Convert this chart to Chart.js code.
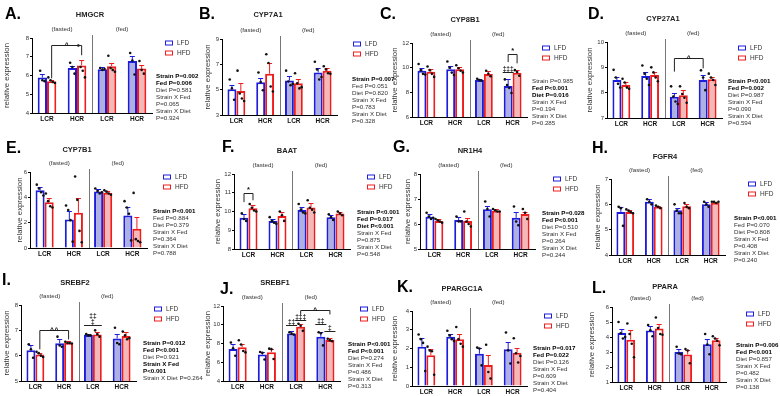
<!DOCTYPE html>
<html lang="en">
<head>
<meta charset="UTF-8" />
<title>Liver gene expression panels</title>
<script src="https://cdn.jsdelivr.net/npm/chart.js"></script>
<style>
  body {
    margin: 0;
    width: 780px;
    height: 396px;
    position: relative;
    overflow: hidden;
    background: #fff;
    font-family: Arial, "Liberation Sans", sans-serif;
  }
  canvas { position: absolute; }
  .txt { position: absolute; white-space: nowrap; line-height: 1; transform: translateY(-50%); }
  .letter { font-size: 16px; font-weight: bold; color: #000; }
  .gene { font-size: 7.5px; font-weight: bold; color: #222; transform: translate(-50%, -50%); }
  .leg { font-size: 6.5px; color: #333; }
  .box { position: absolute; width: 6px; height: 3px; background: #fff; transform: translateY(-50%); }
  .stat { font-size: 6.2px; color: #333; }
  .stat.b { font-weight: bold; color: #000; }
</style>
</head>
<body>
<script>
  // groups: fasted LCR, fasted HCR, fed LCR, fed HCR
  const groups = ['LCR', 'HCR', 'LCR', 'HCR'];
  const diets = ['LFD', 'HFD'];

  // A. HMGCR
  const hmgcrLFD = [5.89, 6.40, 6.34, 6.78];
  const hmgcrHFD = [5.69, 6.54, 6.50, 6.38];
  const hmgcrSem = [[0.19, 0.12, 0.09, 0.27], [0.07, 0.31, 0.18, 0.19]];
  const hmgcrDots = [
    [[6.25, 5.75, 5.70], [6.68, 6.45, 6.10], [6.40, 6.30, 6.35], [7.20, 6.80, 6.05]],
    [[5.90, 5.75, 5.65, 5.60], [7.60, 6.45, 6.25, 5.90], [7.05, 6.40, 6.30, 6.20], [6.77, 6.30, 6.10]]
  ];
  const hmgcrTicks = [4, 5, 6, 7, 8];
  const hmgcrStats = [['Strain P=0.002', 1], ['Fed P=0.006', 1], ['Diet P=0.581', 0], ['Strain X Fed', 0], ['P=0.065', 0], ['Strain X Diet', 0], ['P=0.924', 0]];
  const hmgcrMarks = [{ kind: 'bracket', from: [0, 1], to: [1, 1], y: 7.65, legs: [5.85, 7.08], label: '^' }];

  // B. CYP7A1
  const cyp7a1LFD = [5.03, 5.59, 5.72, 6.36];
  const cyp7a1HFD = [4.90, 6.25, 5.51, 6.49];
  const cyp7a1Sem = [[0.35, 0.31, 0.32, 0.34], [0.60, 0.85, 0.32, 0.21]];
  const cyp7a1Dots = [
    [[5.80, 5.10, 4.20], [6.35, 5.60, 4.95], [6.50, 5.65, 5.35, 5.45], [7.20, 6.60, 5.80, 6.00]],
    [[6.50, 4.70, 4.30, 4.10], [7.80, 7.10, 5.25, 4.85], [6.30, 5.50, 5.10, 5.20], [6.85, 6.60, 6.30, 6.25]]
  ];
  const cyp7a1Ticks = [3, 5, 7, 9];
  const cyp7a1Stats = [['Strain P=0.007', 1], ['Fed P=0.051', 0], ['Diet P=0.820', 0], ['Strain X Fed', 0], ['P=0.783', 0], ['Strain X Diet', 0], ['P=0.328', 0]];
  const cyp7a1Marks = [];

  // C. CYP8B1
  const cyp8b1LFD = [9.75, 9.88, 9.00, 8.52];
  const cyp8b1HFD = [9.67, 9.88, 9.48, 9.59];
  const cyp8b1Sem = [[0.19, 0.24, 0.08, 0.53], [0.19, 0.19, 0.24, 0.21]];
  const cyp8b1Dots = [
    [[10.3, 9.8, 9.5, 9.45], [10.5, 10.0, 9.6, 9.4], [9.1, 9.0, 8.95], [9.05, 8.6, 8.35, 7.95]],
    [[10.1, 9.8, 9.5, 9.25], [10.2, 9.95, 9.75, 9.6], [9.75, 9.5, 9.3], [9.8, 9.65, 9.35]]
  ];
  const cyp8b1Ticks = [6, 8, 10, 12];
  const cyp8b1Stats = [['Strain P=0.985', 0], ['Fed P<0.001', 1], ['Diet P=0.016', 1], ['Strain X Fed', 0], ['P=0.194', 0], ['Strain X Diet', 0], ['P=0.285', 0]];
  const cyp8b1Marks = [
    { kind: 'dagger', at: [3, 0], y: 9.65, label: ['‡‡‡'] },
    { kind: 'bracket', from: [3, 0], to: [3, 1], y: 11.14, legs: [10.45, 10.35], label: '*' }
  ];

  // D. CYP27A1
  const cyp27a1LFD = [8.50, 8.66, 7.84, 8.50];
  const cyp27a1HFD = [8.30, 8.70, 7.90, 8.53];
  const cyp27a1Sem = [[0.13, 0.17, 0.16, 0.20], [0.13, 0.13, 0.20, 0.10]];
  const cyp27a1Dots = [
    [[8.9, 8.6, 8.35, 8.2], [9.07, 8.75, 8.55, 8.3], [8.25, 7.85, 7.65, 7.55], [8.88, 8.6, 8.1]],
    [[8.55, 8.4, 8.2, 8.15], [9.0, 8.8, 8.6, 8.45], [8.25, 7.95, 7.8, 7.6], [8.75, 8.6, 8.5, 8.3]]
  ];
  const cyp27a1Ticks = [7, 8, 9, 10];
  const cyp27a1Stats = [['Strain P<0.001', 1], ['Fed P=0.002', 1], ['Diet P=0.987', 0], ['Strain X Fed', 0], ['P=0.090', 0], ['Strain X Diet', 0], ['P=0.594', 0]];
  const cyp27a1Marks = [{ kind: 'bracket', from: [2, 0], to: [3, 0], y: 9.36, legs: [8.83, 8.96], label: '^' }];

  // E. CYP7B1
  const cyp7b1LFD = [4.55, 2.25, 4.47, 2.56];
  const cyp7b1HFD = [3.62, 2.78, 4.36, 1.51];
  const cyp7b1Sem = [[0.26, 0.71, 0.21, 0.66], [0.32, 1.16, 0.16, 0.97]];
  const cyp7b1Dots = [
    [[5.0, 4.7, 4.4, 4.15], [3.35, 3.0, 2.2, 0.5], [4.7, 4.5, 4.3, 4.4], [3.7, 3.2, 2.7, 0.6]],
    [[4.3, 3.7, 3.3, 3.2], [5.65, 3.8, 1.35, 0.45], [4.55, 4.45, 4.3, 4.2], [4.35, 0.7, 0.55, 0.45]]
  ];
  const cyp7b1Ticks = [0, 2, 4, 6];
  const cyp7b1Stats = [['Strain P<0.001', 1], ['Fed P=0.884', 0], ['Diet P=0.379', 0], ['Strain X Fed', 0], ['P=0.364', 0], ['Strain X Diet', 0], ['P=0.788', 0]];
  const cyp7b1Marks = [];

  // F. BAAT
  const baatLFD = [9.67, 9.49, 10.08, 9.69];
  const baatHFD = [10.17, 9.76, 10.22, 9.90];
  const baatSem = [[0.18, 0.11, 0.18, 0.12], [0.18, 0.23, 0.22, 0.09]];
  const baatDots = [
    [[9.9, 9.6, 9.5], [9.7, 9.5, 9.4, 9.35], [10.4, 10.1, 9.95, 9.9], [9.85, 9.7, 9.55]],
    [[10.4, 10.2, 10.05, 10.0], [10.0, 9.8, 9.5], [10.6, 10.2, 10.1, 9.95], [10.0, 9.9, 9.8]]
  ];
  const baatTicks = [8, 9, 10, 11, 12];
  const baatStats = [['Strain P<0.001', 1], ['Fed P=0.017', 1], ['Diet P<0.001', 1], ['Strain X Fed', 0], ['P=0.875', 0], ['Strain X Diet', 0], ['P=0.548', 0]];
  const baatMarks = [{ kind: 'bracket', from: [0, 0], to: [0, 1], y: 10.97, legs: [10.5, 10.6], label: '*' }];

  // G. NR1H4
  const nr1h4LFD = [6.29, 6.16, 6.59, 6.25];
  const nr1h4HFD = [6.12, 6.12, 6.53, 6.40];
  const nr1h4Sem = [[0.10, 0.13, 0.14, 0.22], [0.08, 0.13, 0.06, 0.09]];
  const nr1h4Dots = [
    [[6.45, 6.3, 6.2, 6.25], [6.3, 6.1, 6.1], [6.9, 6.6, 6.3], [6.7, 6.1, 5.95]],
    [[6.2, 6.15, 6.1, 6.05], [6.5, 6.1, 6.0, 5.9], [6.6, 6.55, 6.5, 6.5], [6.6, 6.45, 6.2]]
  ];
  const nr1h4Ticks = [5, 6, 7, 8];
  const nr1h4Stats = [['Strain P=0.028', 1], ['Fed P<0.001', 1], ['Diet P=0.510', 0], ['Strain X Fed', 0], ['P=0.264', 0], ['Strain X Diet', 0], ['P=0.244', 0]];
  const nr1h4Marks = [];

  // H. FGFR4
  const fgfr4LFD = [5.70, 6.10, 5.77, 6.00];
  const fgfr4HFD = [5.70, 5.90, 5.92, 6.06];
  const fgfr4Sem = [[0.20, 0.13, 0.10, 0.10], [0.07, 0.04, 0.11, 0.04]];
  const fgfr4Dots = [
    [[5.9, 5.85, 5.15], [6.2, 6.1, 6.0], [6.0, 5.75, 5.65, 5.65], [6.1, 6.0, 5.9]],
    [[5.8, 5.75, 5.7, 5.65], [5.95, 5.9, 5.85], [6.05, 5.9, 5.85], [6.1, 6.1, 6.05, 6.1]]
  ];
  const fgfr4Ticks = [4, 5, 6, 7];
  const fgfr4Stats = [['Strain P<0.001', 1], ['Fed P=0.070', 0], ['Diet P=0.808', 0], ['Strain X Fed', 0], ['P=0.408', 0], ['Strain X Diet', 0], ['P=0.240', 0]];
  const fgfr4Marks = [];

  // I. SREBF2
  const srebf2LFD = [6.21, 6.49, 6.82, 6.68];
  const srebf2HFD = [6.05, 6.51, 6.84, 6.78];
  const srebf2Sem = [[0.20, 0.15, 0.03, 0.16], [0.07, 0.07, 0.09, 0.15]];
  const srebf2Dots = [
    [[6.45, 6.25, 5.92], [6.75, 6.4, 6.35], [6.85, 6.8, 6.8], [7.1, 6.5, 6.45]],
    [[6.15, 6.1, 6.0, 5.95], [6.55, 6.5, 6.5, 6.48], [7.0, 6.85, 6.75], [6.95, 6.8, 6.65, 6.7]]
  ];
  const srebf2Ticks = [5, 6, 7, 8];
  const srebf2Stats = [['Strain P=0.012', 1], ['Fed P<0.001', 1], ['Diet P=0.921', 0], ['Strain X Fed', 1], ['P<0.001', 1], ['Strain X Diet P=0.264', 0]];
  const srebf2Marks = [
    { kind: 'bracket', from: [0, 1], to: [1, 1], y: 7.0, legs: [6.25, 6.64], label: '^^' },
    { kind: 'dagger', at: [2, -1], y: 7.21, label: ['‡‡', '‡'] }
  ];

  // J. SREBF1
  const srebf1LFD = [7.42, 6.82, 9.07, 8.72];
  const srebf1HFD = [7.60, 7.07, 9.78, 8.37];
  const srebf1Sem = [[0.53, 0.25, 0.29, 0.46], [0.35, 0.35, 0.35, 0.21]];
  const srebf1Dots = [
    [[8.1, 7.5, 6.7], [7.1, 7.0, 6.3], [9.2, 9.05, 8.95], [9.2, 9.1, 7.8]],
    [[8.35, 7.9, 7.2, 7.05], [7.45, 7.4, 6.35], [10.1, 9.9, 9.35], [8.5, 8.35, 8.25]]
  ];
  const srebf1Ticks = [4, 6, 8, 10, 12];
  const srebf1Stats = [['Strain P<0.001', 1], ['Fed P<0.001', 1], ['Diet P=0.274', 0], ['Strain X Fed', 0], ['P=0.486', 0], ['Strain X Diet', 0], ['P=0.313', 0]];
  const srebf1Marks = [
    { kind: 'dagger', at: [2, 0], y: 9.96, label: ['‡‡'] },
    { kind: 'dagger', at: [2, 1], y: 10.52, label: ['‡‡‡'] },
    { kind: 'dagger', at: [3, 0], y: 10.06, label: ['‡‡'] },
    { kind: 'dagger', at: [3, 1], y: 9.36, label: ['‡'] },
    { kind: 'bracket', from: [2, 1], to: [3, 1], y: 11.54, legs: [11.1, 11.1], label: '^' }
  ];

  // K. PPARGC1A
  const ppargc1aLFD = [2.10, 2.63, 1.72, 1.96];
  const ppargc1aHFD = [1.64, 2.49, 1.12, 1.78];
  const ppargc1aSem = [[0.44, 0.13, 0.32, 0.39], [0.32, 0.27, 0.53, 0.26]];
  const ppargc1aDots = [
    [[2.75, 2.5, 2.3, 0.8], [2.95, 2.7, 2.5, 2.4], [2.05, 2.0, 1.1], [2.85, 1.9, 1.2]],
    [[2.1, 1.9, 1.85, 0.6], [3.15, 2.5, 2.25, 2.1], [2.2, 0.75, 0.4], [2.55, 1.75, 1.25, 1.6]]
  ];
  const ppargc1aTicks = [0, 1, 2, 3, 4];
  const ppargc1aStats = [['Strain P=0.017', 1], ['Fed P=0.022', 1], ['Diet P=0.126', 0], ['Strain X Fed', 0], ['P=0.609', 0], ['Strain X Diet', 0], ['P=0.404', 0]];
  const ppargc1aMarks = [];

  // L. PPARA
  const pparaLFD = [4.27, 4.44, 3.00, 3.51];
  const pparaHFD = [3.82, 4.56, 2.84, 3.78];
  const pparaSem = [[0.29, 0.27, 0.22, 0.38], [0.62, 0.33, 0.27, 0.18]];
  const pparaDots = [
    [[5.0, 4.25, 3.9, 4.0], [4.8, 4.45, 4.05], [3.35, 2.9, 2.85], [4.2, 3.5, 2.85]],
    [[4.9, 4.2, 3.55, 2.65], [5.3, 4.6, 4.2, 4.15], [3.2, 3.1, 2.25], [4.05, 3.9, 3.75, 3.45]]
  ];
  const pparaTicks = [1, 2, 3, 4, 5, 6];
  const pparaStats = [['Strain P=0.006', 1], ['Fed P<0.001', 1], ['Diet P=0.857', 0], ['Strain X Fed', 0], ['P=0.482', 0], ['Strain X Diet', 0], ['P=0.138', 0]];
  const pparaMarks = [];

  const FONT = 'Arial, "Liberation Sans", sans-serif';
  const edge = ['#1c1cdc', '#f01c1c'];
  const fedFill = ['#aeb0e2', '#f3b9b9'];

  // panel frames (page pixels): plot box, y-title, letter, gene name, legend, stats
  const panels = [
    { letter: 'A.', gene: 'HMGCR', means: [hmgcrLFD, hmgcrHFD], sem: hmgcrSem, dots: hmgcrDots, ticks: hmgcrTicks, stats: hmgcrStats, marks: hmgcrMarks,
      x0: 32, x1: 152, top: 38, bot: 113, ylab: 7, lp: [5, 14], gp: [90, 15], legp: [165, 43], sp: [156, 76] },
    { letter: 'B.', gene: 'CYP7A1', means: [cyp7a1LFD, cyp7a1HFD], sem: cyp7a1Sem, dots: cyp7a1Dots, ticks: cyp7a1Ticks, stats: cyp7a1Stats, marks: cyp7a1Marks,
      x0: 222, x1: 337, top: 39, bot: 115, ylab: 208, lp: [199, 14], gp: [268, 15], legp: [353, 44], sp: [352, 79] },
    { letter: 'C.', gene: 'CYP8B1', means: [cyp8b1LFD, cyp8b1HFD], sem: cyp8b1Sem, dots: cyp8b1Dots, ticks: cyp8b1Ticks, stats: cyp8b1Stats, marks: cyp8b1Marks,
      x0: 412, x1: 527, top: 43, bot: 117, ylab: 395, lp: [380, 14], gp: [465, 20], legp: [542, 48], sp: [532, 81] },
    { letter: 'D.', gene: 'CYP27A1', means: [cyp27a1LFD, cyp27a1HFD], sem: cyp27a1Sem, dots: cyp27a1Dots, ticks: cyp27a1Ticks, stats: cyp27a1Stats, marks: cyp27a1Marks,
      x0: 607, x1: 722, top: 42, bot: 118, ylab: 590, lp: [588, 14], gp: [663, 19], legp: [738, 48], sp: [728, 81] },
    { letter: 'E.', gene: 'CYP7B1', means: [cyp7b1LFD, cyp7b1HFD], sem: cyp7b1Sem, dots: cyp7b1Dots, ticks: cyp7b1Ticks, stats: cyp7b1Stats, marks: cyp7b1Marks,
      x0: 30, x1: 147, top: 172, bot: 248, ylab: 20, lp: [6, 148], gp: [77, 150], legp: [163, 177], sp: [153, 211] },
    { letter: 'F.', gene: 'BAAT', means: [baatLFD, baatHFD], sem: baatSem, dots: baatDots, ticks: baatTicks, stats: baatStats, marks: baatMarks,
      x0: 234, x1: 350, top: 174, bot: 249, ylab: 218, lp: [222, 147], gp: [287, 151], legp: [367, 177], sp: [357, 212] },
    { letter: 'G.', gene: 'NR1H4', means: [nr1h4LFD, nr1h4HFD], sem: nr1h4Sem, dots: nr1h4Dots, ticks: nr1h4Ticks, stats: nr1h4Stats, marks: nr1h4Marks,
      x0: 420, x1: 535, top: 174, bot: 249, ylab: 408, lp: [393, 147], gp: [470, 151], legp: [553, 179], sp: [542, 213] },
    { letter: 'H.', gene: 'FGFR4', means: [fgfr4LFD, fgfr4HFD], sem: fgfr4Sem, dots: fgfr4Dots, ticks: fgfr4Ticks, stats: fgfr4Stats, marks: fgfr4Marks,
      x0: 611, x1: 725, top: 179, bot: 255, ylab: 598, lp: [592, 148], gp: [665, 157], legp: [748, 184], sp: [734, 218] },
    { letter: 'I.', gene: 'SREBF2', means: [srebf2LFD, srebf2HFD], sem: srebf2Sem, dots: srebf2Dots, ticks: srebf2Ticks, stats: srebf2Stats, marks: srebf2Marks,
      x0: 21, x1: 136, top: 305, bot: 381, ylab: 7, lp: [2, 280], gp: [75, 283], legp: [154, 309], sp: [143, 343] },
    { letter: 'J.', gene: 'SREBF1', means: [srebf1LFD, srebf1HFD], sem: srebf1Sem, dots: srebf1Dots, ticks: srebf1Ticks, stats: srebf1Stats, marks: srebf1Marks,
      x0: 223, x1: 340, top: 306, bot: 381, ylab: 208, lp: [220, 289], gp: [275, 283], legp: [360, 309], sp: [348, 344] },
    { letter: 'K.', gene: 'PPARGC1A', means: [ppargc1aLFD, ppargc1aHFD], sem: ppargc1aSem, dots: ppargc1aDots, ticks: ppargc1aTicks, stats: ppargc1aStats, marks: ppargc1aMarks,
      x0: 412, x1: 527, top: 311, bot: 386, ylab: 395, lp: [397, 287], gp: [462, 289], legp: [544, 316], sp: [533, 348] },
    { letter: 'L.', gene: 'PPARA', means: [pparaLFD, pparaHFD], sem: pparaSem, dots: pparaDots, ticks: pparaTicks, stats: pparaStats, marks: pparaMarks,
      x0: 612, x1: 726, top: 307, bot: 382, ylab: 592, lp: [592, 288], gp: [665, 287], legp: [746, 314], sp: [736, 345] }
  ];

  const PAD_L = 30, PAD_T = 30, PAD_R = 4, XH = 14, PAD_B = 2;

  // error bars, dots, brackets, fasted/fed split, y title
  const extras = {
    id: 'extras',
    afterDatasetsDraw(chart) {
      const p = panels[+chart.canvas.dataset.idx];
      const ctx = chart.ctx, ys = chart.scales.y, xs = chart.scales.x, area = chart.chartArea;
      const left = p.x0 - PAD_L;
      ctx.save();

      // SEM whiskers (upper only)
      p.sem.forEach((row, d) => {
        const meta = chart.getDatasetMeta(d);
        ctx.strokeStyle = edge[d];
        ctx.lineWidth = 1;
        row.forEach((s, i) => {
          const bar = meta.data[i];
          const yt = Math.round(ys.getPixelForValue(p.means[d][i] + s)) + 0.5;
          ctx.beginPath();
          ctx.moveTo(bar.x, bar.y);
          ctx.lineTo(bar.x, yt);
          ctx.moveTo(bar.x - 2.5, yt);
          ctx.lineTo(bar.x + 2.5, yt);
          ctx.stroke();
        });
      });

      // individual animals
      ctx.fillStyle = '#111';
      p.dots.forEach((row, d) => {
        const meta = chart.getDatasetMeta(d);
        row.forEach((vals, i) => {
          const bar = meta.data[i];
          vals.forEach((v, k) => {
            const x = bar.x + (k - (vals.length - 1) / 2) * 2.2;
            ctx.beginPath();
            ctx.arc(x, ys.getPixelForValue(v), 1.3, 0, Math.PI * 2);
            ctx.fill();
          });
        });
      });

      // fasted | fed divider
      const mid = (xs.getPixelForValue(1) + xs.getPixelForValue(2)) / 2;
      ctx.strokeStyle = '#777';
      ctx.lineWidth = 1;
      ctx.beginPath();
      ctx.moveTo(Math.round(mid) + 0.5, area.top - 3);
      ctx.lineTo(Math.round(mid) + 0.5, area.bottom);
      ctx.stroke();

      ctx.fillStyle = '#333';
      ctx.font = '6.2px ' + FONT;
      ctx.textAlign = 'center';
      ctx.textBaseline = 'middle';
      ctx.fillText('(fasted)', (area.left + mid) / 2, area.top - 8.5);
      ctx.fillText('(fed)', (mid + area.right) / 2, area.top - 8.5);

      // y title
      ctx.save();
      ctx.translate(p.ylab - left, (area.top + area.bottom) / 2);
      ctx.rotate(-Math.PI / 2);
      ctx.font = '7.8px ' + FONT;
      ctx.fillStyle = '#333';
      ctx.fillText('relative expression', 0, 0);
      ctx.restore();

      // significance marks
      p.marks.forEach(m => {
        ctx.strokeStyle = '#222';
        ctx.fillStyle = '#111';
        ctx.lineWidth = 1;
        if (m.kind === 'bracket') {
          const xa = chart.getDatasetMeta(m.from[1]).data[m.from[0]].x;
          const xb = chart.getDatasetMeta(m.to[1]).data[m.to[0]].x;
          const y = Math.round(ys.getPixelForValue(m.y)) + 0.5;
          ctx.beginPath();
          ctx.moveTo(xa, ys.getPixelForValue(m.legs[0]));
          ctx.lineTo(xa, y);
          ctx.lineTo(xb, y);
          ctx.lineTo(xb, ys.getPixelForValue(m.legs[1]));
          ctx.stroke();
          ctx.font = 'bold 7.5px ' + FONT;
          ctx.textBaseline = 'alphabetic';
          ctx.fillText(m.label, (xa + xb) / 2, y - 1.5 + (m.label === '*' ? 0 : 4));
        } else {
          let xa, xb;
          if (m.at[1] < 0) {
            const b0 = chart.getDatasetMeta(0).data[m.at[0]];
            const b1 = chart.getDatasetMeta(1).data[m.at[0]];
            xa = b0.x - b0.width / 2; xb = b1.x + b1.width / 2;
          } else {
            const b = chart.getDatasetMeta(m.at[1]).data[m.at[0]];
            xa = b.x - b.width / 2 - 1; xb = b.x + b.width / 2 + 1;
          }
          const y = Math.round(ys.getPixelForValue(m.y)) + 0.5;
          ctx.beginPath();
          ctx.moveTo(xa, y);
          ctx.lineTo(xb, y);
          ctx.stroke();
          ctx.font = 'bold 6.5px ' + FONT;
          ctx.textBaseline = 'alphabetic';
          const n = m.label.length;
          m.label.forEach((t, k) => {
            ctx.fillText(t, (xa + xb) / 2, y - 1.5 - (n - 1 - k) * 6);
          });
        }
      });
      ctx.restore();
    }
  };

  function addText(cls, text, x, y) {
    const el = document.createElement('div');
    el.className = 'txt ' + cls;
    el.textContent = text;
    el.style.left = x + 'px';
    el.style.top = y + 'px';
    document.body.appendChild(el);
    return el;
  }

  panels.forEach((p, idx) => {
    const cv = document.createElement('canvas');
    const w = p.x1 - p.x0 + PAD_L + PAD_R;
    const h = p.bot - p.top + PAD_T + XH + PAD_B;
    cv.width = w; cv.height = h;
    cv.style.left = (p.x0 - PAD_L) + 'px';
    cv.style.top = (p.top - PAD_T) + 'px';
    cv.style.width = w + 'px';
    cv.style.height = h + 'px';
    cv.dataset.idx = idx;
    document.body.appendChild(cv);

    const datasets = diets.map((name, d) => ({
      label: name,
      data: p.means[d],
      backgroundColor: groups.map((g, i) => i < 2 ? '#ffffff' : fedFill[d]),
      borderColor: edge[d],
      borderWidth: 2
    }));

    new Chart(cv, {
      type: 'bar',
      data: { labels: groups, datasets: datasets },
      options: {
        responsive: false,
        animation: false,
        events: [],
        layout: { padding: { left: 0, top: PAD_T, right: PAD_R, bottom: PAD_B } },
        datasets: { bar: { categoryPercentage: 0.62, barPercentage: 1 } },
        plugins: { legend: { display: false }, tooltip: { enabled: false } },
        scales: {
          x: {
            grid: { display: false, drawTicks: false, tickLength: 0 },
            border: { color: '#000', width: 1 },
            ticks: { color: '#111', font: { size: 6.5, weight: 'bold', family: FONT }, padding: 2, maxRotation: 0, autoSkip: false },
            afterFit: s => { s.height = XH; }
          },
          y: {
            min: p.ticks[0],
            max: p.ticks[p.ticks.length - 1],
            afterBuildTicks: s => { s.ticks = p.ticks.map(v => ({ value: v })); },
            grid: { drawOnChartArea: false, tickLength: 2, color: '#000' },
            border: { color: '#000', width: 1 },
            ticks: { color: '#333', font: { size: 6, family: FONT }, padding: 1 },
            afterFit: s => { s.width = PAD_L; }
          }
        }
      },
      plugins: [extras]
    });

    addText('letter', p.letter, p.lp[0], p.lp[1]);
    addText('gene', p.gene, p.gp[0], p.gp[1]);

    diets.forEach((name, d) => {
      const y = p.legp[1] + d * 10;
      const box = document.createElement('div');
      box.className = 'box';
      box.style.left = p.legp[0] + 'px';
      box.style.top = y + 'px';
      box.style.border = '1.5px solid ' + edge[d];
      document.body.appendChild(box);
      addText('leg', name, p.legp[0] + 12, y);
    });

    p.stats.forEach((s, k) => {
      addText('stat' + (s[1] ? ' b' : ''), s[0], p.sp[0], p.sp[1] + k * 7);
    });
  });
</script>
</body>
</html>
